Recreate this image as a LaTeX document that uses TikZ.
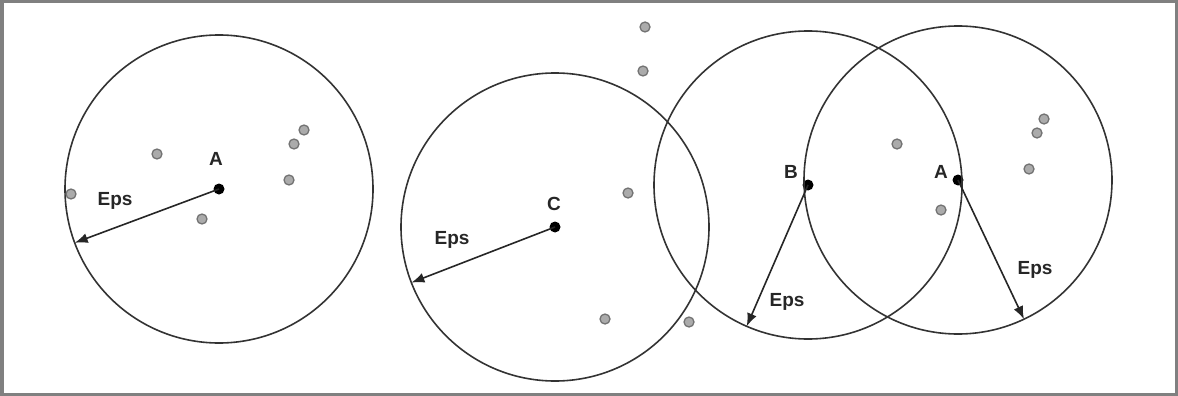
\documentclass[tikz,border=0pt]{standalone}
\usepackage{fontspec}
\setmainfont{Liberation Sans}
\usetikzlibrary{arrows.meta}
\begin{document}
\begin{tikzpicture}[x=1pt,y=-1pt,
  ring/.style={draw=black!80,line width=1.6pt},
  pt/.style={circle,fill=black,inner sep=0pt,minimum size=11pt},
  gdot/.style={circle,draw=black!55,fill=black!33,line width=1.3pt,inner sep=0pt,minimum size=10pt},
  lbl/.style={font=\fontsize{19}{22}\selectfont\bfseries,text=black!85,inner sep=0pt},
  epsarrow/.style={draw=black!85,line width=1.6pt,-{Latex[length=13pt,width=10pt]}}]
\useasboundingbox (0,0) rectangle (1178,396);
\draw[black!50,line width=3.5pt] (1.75,1.75) rectangle (1176.25,394.25);
% centres
\node[pt] (A1) at (219,189) {};
\node[pt] (C) at (555,227) {};
\node[pt] (B) at (808,185) {};
\node[pt] (A2) at (958,180) {};
% circles
\draw[ring] (A1.center) circle (154);
\draw[ring] (C.center) circle (154);
\draw[ring] (B.center) circle (154);
\draw[ring] (A2.center) circle (154);
% arrow ends
\coordinate (e1) at (74.7,242.8);
\coordinate (eC) at (411.4,282.6);
\coordinate (eB) at (746.7,326.3);
\coordinate (eA) at (1024,319.2);
\draw[epsarrow] (A1.center) -- (e1);
\draw[epsarrow] (C.center) -- (eC);
\draw[epsarrow] (B.center) -- (eB);
\draw[epsarrow] (A2.center) -- (eA);
% labels
\node[lbl] (lA1) at (216,159) {A};
\node[lbl] (lC) at (554,204) {C};
\node[lbl] (lB) at (791,172) {B};
\node[lbl] (lA2) at (941,172) {A};
\node[lbl] (eps1) at (115,201) {Eps};
\node[lbl] (epsC) at (452,240) {Eps};
\node[lbl] (epsB) at (787,302) {Eps};
\node[lbl] (epsA) at (1035,270) {Eps};
% grey points
\node[gdot] (g1) at (157,154) {};
\node[gdot] (g2) at (71,194) {};
\node[gdot] (g3) at (202,219) {};
\node[gdot] (g4) at (289,180) {};
\node[gdot] (g5) at (294,144) {};
\node[gdot] (g6) at (304,130) {};
\node[gdot] (g7) at (645,27) {};
\node[gdot] (g8) at (643,71) {};
\node[gdot] (g9) at (628,193) {};
\node[gdot] (g10) at (605,319) {};
\node[gdot] (g11) at (689,322) {};
\node[gdot] (g12) at (897,144) {};
\node[gdot] (g13) at (941,210) {};
\node[gdot] (g14) at (1029,169) {};
\node[gdot] (g15) at (1037,133) {};
\node[gdot] (g16) at (1044,119) {};
\end{tikzpicture}
\end{document}
